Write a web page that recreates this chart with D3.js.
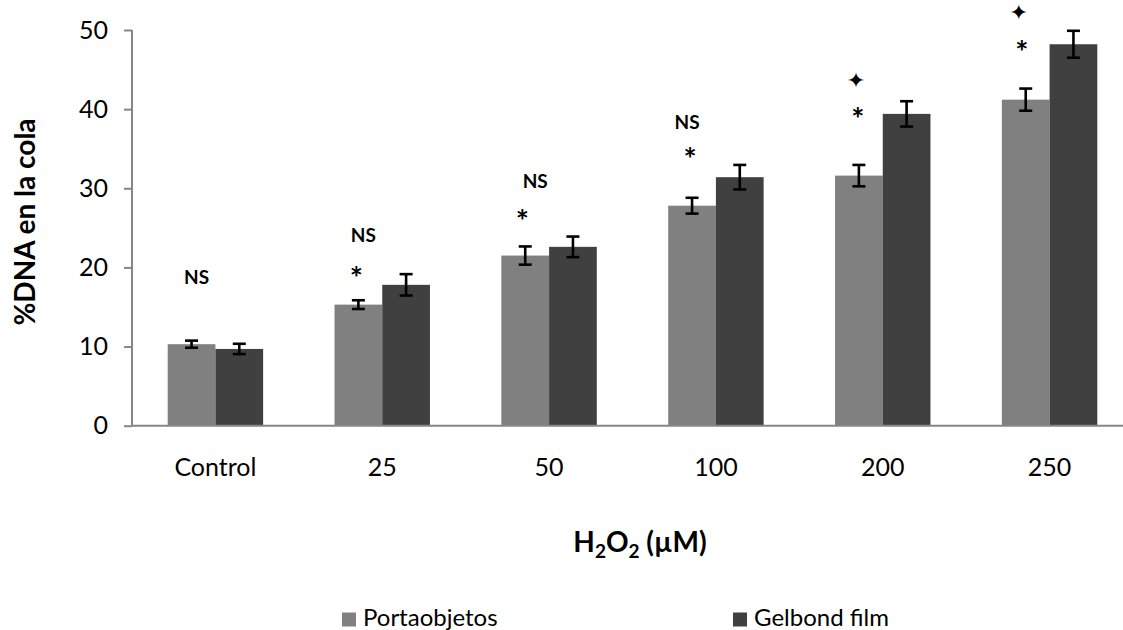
<!DOCTYPE html>
<html>
<head>
<meta charset="utf-8">
<script src="https://cdn.jsdelivr.net/npm/d3@7"></script>
<style>
  html, body { margin: 0; padding: 0; background: #fff; }
  svg { display: block; font-family: Lato, "Open Sans", sans-serif; }
</style>
</head>
<body>
<svg id="chart" width="1123" height="630"></svg>
<script>
// H2O2 dose groups (µM)
const categories = ["Control", "25", "50", "100", "200", "250"];
const seriesNames = ["Portaobjetos", "Gelbond film"];

// Mean % DNA in tail
const portaobjetos = [10.3, 15.3, 21.5, 27.8, 31.6, 41.2];
const gelbond = [9.7, 17.8, 22.6, 31.4, 39.4, 48.2];

// Error (± SE)
const errPortaobjetos = [0.45, 0.55, 1.15, 1.0, 1.35, 1.4];
const errGelbond = [0.65, 1.35, 1.3, 1.55, 1.6, 1.7];

const yTicks = [0, 10, 20, 30, 40, 50];

// Significance marks above the Portaobjetos bars (level in % units)
const marks = [
  { cat: "Control", text: "NS", level: 18.8 },
  { cat: "25", text: "NS", level: 24.1 },
  { cat: "25", text: "*", level: 19.6 },
  { cat: "50", text: "NS", level: 30.85 },
  { cat: "50", text: "*", level: 26.85 },
  { cat: "100", text: "NS", level: 38.3 },
  { cat: "100", text: "*", level: 34.6 },
  { cat: "200", text: "\u2726", level: 43.7 },
  { cat: "200", text: "*", level: 39.7 },
  { cat: "250", text: "\u2726", level: 52.3 },
  { cat: "250", text: "*", level: 48.2 }
];
const markNudge = { "Control|NS": 5, "25|NS": 5, "50|NS": 10, "100|NS": -5, "25|*": -2, "50|*": -3, "100|*": -2, "200|*": -1, "200|\u2726": -3, "250|*": -4, "250|\u2726": -7 };

const colors = ["#808080", "#404040"];

const svg = d3.select("#chart");
const plotLeft = 132, plotRight = 1133, plotTop = 30, plotBottom = 425.7;

const x0 = d3.scaleBand().domain(categories).range([plotLeft, plotRight])
  .paddingInner(0.428).paddingOuter(0.214);
const x1 = d3.scaleBand().domain(seriesNames).range([0, x0.bandwidth()]);
const y = d3.scaleLinear().domain([0, 50]).range([plotBottom, plotTop]);

const rows = categories.map((c, i) => ({
  cat: c,
  values: [
    { s: seriesNames[0], v: portaobjetos[i], e: errPortaobjetos[i], color: colors[0] },
    { s: seriesNames[1], v: gelbond[i], e: errGelbond[i], color: colors[1] }
  ]
}));

// Bars
const groups = svg.append("g").selectAll("g").data(rows).join("g")
  .attr("transform", d => `translate(${x0(d.cat)},0)`);

groups.selectAll("rect").data(d => d.values).join("rect")
  .attr("x", d => x1(d.s))
  .attr("y", d => y(d.v))
  .attr("width", x1.bandwidth())
  .attr("height", d => y(0) - y(d.v))
  .attr("fill", d => d.color);

// Error bars
const eb = groups.selectAll("g.err").data(d => d.values).join("g").attr("class", "err")
  .attr("stroke", "#000").attr("stroke-width", 2.6);
const capW = 6.5;
eb.append("line")
  .attr("x1", d => x1(d.s) + x1.bandwidth() / 2)
  .attr("x2", d => x1(d.s) + x1.bandwidth() / 2)
  .attr("y1", d => y(d.v + d.e)).attr("y2", d => y(d.v - d.e));
eb.append("line")
  .attr("x1", d => x1(d.s) + x1.bandwidth() / 2 - capW)
  .attr("x2", d => x1(d.s) + x1.bandwidth() / 2 + capW)
  .attr("y1", d => y(d.v + d.e)).attr("y2", d => y(d.v + d.e));
eb.append("line")
  .attr("x1", d => x1(d.s) + x1.bandwidth() / 2 - capW)
  .attr("x2", d => x1(d.s) + x1.bandwidth() / 2 + capW)
  .attr("y1", d => y(d.v - d.e)).attr("y2", d => y(d.v - d.e));

// Y axis
const yAxis = svg.append("g").attr("transform", `translate(${plotLeft},0)`)
  .call(d3.axisLeft(y).tickValues(yTicks).tickSize(8).tickPadding(16));
yAxis.select(".domain").attr("stroke", "#868686").attr("stroke-width", 2)
  .attr("d", `M0,${plotTop}V${plotBottom}`);
yAxis.selectAll(".tick line").attr("stroke", "#868686").attr("stroke-width", 2);
yAxis.selectAll(".tick text").attr("font-size", 25).attr("fill", "#000")
  .attr("font-family", "Lato, sans-serif");

// X axis
const xAxis = svg.append("g").attr("transform", `translate(0,${plotBottom})`)
  .call(d3.axisBottom(x0).tickSize(0).tickPadding(33));
xAxis.select(".domain").attr("stroke", "#868686").attr("stroke-width", 2)
  .attr("d", `M${plotLeft},0H${plotRight}`);
xAxis.selectAll(".tick text").attr("font-size", 25).attr("fill", "#000")
  .attr("font-family", "Lato, sans-serif");

// Axis titles
svg.append("text")
  .attr("transform", `translate(35,222) rotate(-90)`)
  .attr("text-anchor", "middle")
  .attr("font-weight", "bold").attr("font-size", 28)
  .text("%DNA en la cola");

const xt = svg.append("text")
  .attr("x", 640).attr("y", 552)
  .attr("text-anchor", "middle")
  .attr("font-weight", "bold").attr("font-size", 28);
xt.append("tspan").text("H");
xt.append("tspan").attr("font-size", 19).attr("dy", 6).text("2");
xt.append("tspan").attr("dy", -6).text("O");
xt.append("tspan").attr("font-size", 19).attr("dy", 6).text("2");
xt.append("tspan").attr("dy", -6).text(" (\u00B5M)");

// Significance marks
svg.append("g").selectAll("text").data(marks).join("text")
  .attr("x", d => x0(d.cat) + x1(seriesNames[0]) + x1.bandwidth() / 2 + (markNudge[d.cat + "|" + d.text] || 0))
  .attr("y", d => y(d.level))
  .attr("text-anchor", "middle")
  .attr("font-weight", "bold")
  .attr("font-family", d => d.text === "\u2726" ? "'DejaVu Sans', sans-serif" : "Lato, sans-serif")
  .attr("font-size", d => d.text === "NS" ? 19 : (d.text === "*" ? 31 : 22))
  .attr("dy", d => d.text === "NS" ? "0.36em" : (d.text === "*" ? "0.6em" : "0.36em"))
  .text(d => d.text);

// Legend
const legendX = [342, 733];
const legend = svg.append("g").selectAll("g").data(seriesNames).join("g")
  .attr("transform", (d, i) => `translate(${legendX[i]},612.5)`);
legend.append("rect").attr("width", 14).attr("height", 14).attr("fill", (d, i) => colors[i]);
legend.append("text").attr("x", 21).attr("y", 13.5).attr("font-size", 24)
  .attr("fill", "#000").text(d => d);
</script>
</body>
</html>
